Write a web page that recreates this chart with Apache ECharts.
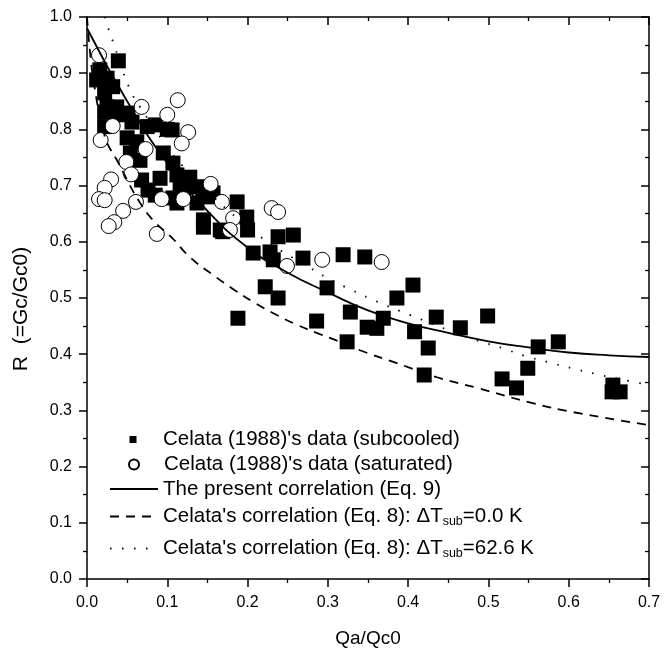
<!DOCTYPE html>
<html>
<head>
<meta charset="utf-8">
<script src="https://cdn.jsdelivr.net/npm/echarts@6/dist/echarts.min.js"></script>
<style>
html, body { margin: 0; padding: 0; background: #fff; }
#chart { width: 664px; height: 651px; }
</style>
</head>
<body>
<div id="chart"></div>
<script>
// Celata (1988) subcooled data [Qa/Qc0, R]
var subcooled = [
  [0.039,0.922],[0.016,0.906],[0.012,0.888],[0.025,0.891],[0.032,0.876],[0.022,0.865],
  [0.025,0.84],[0.037,0.84],[0.022,0.831],[0.022,0.805],[0.039,0.826],[0.051,0.829],
  [0.056,0.813],[0.05,0.785],[0.062,0.778],[0.075,0.805],[0.085,0.808],[0.1,0.8],
  [0.106,0.799],[0.095,0.758],[0.107,0.74],[0.054,0.758],[0.066,0.745],[0.068,0.71],
  [0.091,0.713],[0.076,0.692],[0.112,0.719],[0.116,0.698],[0.128,0.715],[0.137,0.698],
  [0.12,0.692],[0.144,0.692],[0.085,0.683],[0.107,0.678],[0.112,0.669],[0.137,0.669],
  [0.153,0.68],[0.157,0.687],[0.187,0.671],[0.145,0.639],[0.145,0.626],[0.166,0.621],
  [0.169,0.618],[0.199,0.644],[0.2,0.621],[0.207,0.58],[0.238,0.609],[0.257,0.612],
  [0.228,0.582],[0.232,0.568],[0.269,0.571],[0.319,0.577],[0.346,0.573],[0.222,0.52],
  [0.238,0.5],[0.188,0.464],[0.286,0.459],[0.299,0.518],[0.328,0.475],[0.324,0.422],
  [0.349,0.448],[0.361,0.446],[0.369,0.464],[0.386,0.5],[0.406,0.523],[0.408,0.44],
  [0.425,0.411],[0.435,0.466],[0.465,0.447],[0.42,0.363],[0.499,0.468],[0.517,0.356],
  [0.535,0.34],[0.549,0.375],[0.562,0.413],[0.587,0.422],[0.655,0.345],[0.664,0.333],
  [0.654,0.333]
];
// Celata (1988) saturated data
var saturated = [
  [0.015,0.932],[0.068,0.84],[0.113,0.852],[0.1,0.826],[0.126,0.795],[0.118,0.775],
  [0.032,0.806],[0.017,0.781],[0.073,0.765],[0.049,0.742],[0.055,0.72],[0.03,0.711],
  [0.022,0.696],[0.015,0.676],[0.022,0.674],[0.061,0.671],[0.093,0.676],[0.12,0.676],
  [0.154,0.703],[0.168,0.671],[0.045,0.655],[0.034,0.635],[0.027,0.628],[0.087,0.614],
  [0.182,0.642],[0.178,0.621],[0.23,0.66],[0.238,0.653],[0.249,0.557],[0.293,0.568],
  [0.367,0.564]
];
// present correlation (Eq. 9)
var presentCorr = [
  [0,0.98],[0.05,0.85],[0.1,0.74],[0.15,0.655],[0.2,0.59],[0.25,0.545],[0.3,0.51],
  [0.35,0.478],[0.4,0.455],[0.45,0.438],[0.5,0.423],[0.55,0.412],[0.6,0.403],
  [0.65,0.398],[0.7,0.395]
];
// Celata's correlation (Eq. 8), dTsub = 0.0 K
var celata0 = [
  [0,1.0],[0.005,0.92],[0.01,0.87],[0.015,0.83],[0.02,0.8],[0.025,0.776],[0.037,0.746],
  [0.05,0.71],[0.064,0.674],[0.082,0.639],[0.106,0.607],[0.128,0.573],[0.157,0.541],
  [0.184,0.514],[0.207,0.493],[0.232,0.473],[0.262,0.452],[0.286,0.438],[0.315,0.422],
  [0.34,0.407],[0.386,0.384],[0.436,0.359],[0.486,0.34],[0.555,0.313],[0.605,0.297],
  [0.7,0.274]
];
// Celata's correlation (Eq. 8), dTsub = 62.6 K
var celata62 = [
  [0.022,1.0],[0.025,0.986],[0.035,0.945],[0.045,0.902],[0.057,0.861],[0.066,0.84],
  [0.095,0.778],[0.116,0.74],[0.15,0.69],[0.187,0.642],[0.215,0.61],[0.244,0.582],
  [0.274,0.557],[0.3,0.535],[0.33,0.514],[0.359,0.495],[0.402,0.47],[0.45,0.443],
  [0.487,0.424],[0.517,0.411],[0.545,0.397],[0.574,0.386],[0.604,0.375],[0.633,0.365],
  [0.676,0.352],[0.7,0.345]
];

var names = [
  "Celata (1988)'s data (subcooled)",
  "Celata (1988)'s data (saturated)",
  "The present correlation (Eq. 9)",
  "Celata's correlation (Eq. 8): dT0",
  "Celata's correlation (Eq. 8): dT62"
];
var labels = {};
labels[names[3]] = "Celata's correlation (Eq. 8): \u0394T{s|sub}=0.0 K";
labels[names[4]] = "Celata's correlation (Eq. 8): \u0394T{s|sub}=62.6 K";

var FONT = "'Liberation Sans', Arial, Helvetica, sans-serif";
var chart = echarts.init(document.getElementById('chart'));

function fmt(v) { return v.toFixed(1); }

function xAxisCfg(pos) {
  var bottom = pos === 'bottom';
  return {
    type: 'value', min: 0, max: 0.7, interval: 0.1, position: pos,
    name: bottom ? 'Qa/Qc0' : '', nameLocation: 'middle', nameGap: 50,
    nameTextStyle: { color: '#000', fontSize: 19, fontFamily: FONT },
    axisLine: { onZero: false, lineStyle: { color: '#000', width: 1.5 } },
    axisTick: { inside: !bottom, length: 8, lineStyle: { color: '#000', width: 1.5 } },
    minorTick: { show: true, splitNumber: 2, length: 4, lineStyle: { color: '#000', width: 1.3 } },
    splitLine: { show: false },
    axisLabel: { show: bottom, formatter: fmt, color: '#000', fontSize: 16, fontFamily: FONT, margin: 16 }
  };
}
function yAxisCfg(pos) {
  var left = pos === 'left';
  return {
    type: 'value', min: 0, max: 1.0, interval: 0.1, position: pos,
    name: left ? 'R  (=Gc/Gc0)' : '', nameLocation: 'middle', nameGap: 55,
    nameTextStyle: { color: '#000', fontSize: 21, fontFamily: FONT, padding: [0, 22, 0, 0] },
    axisLine: { onZero: false, lineStyle: { color: '#000', width: 1.5 } },
    axisTick: { inside: !left, length: 8, lineStyle: { color: '#000', width: 1.5 } },
    minorTick: { show: true, splitNumber: 2, length: 4, lineStyle: { color: '#000', width: 1.3 } },
    splitLine: { show: false },
    axisLabel: { show: left, formatter: fmt, color: '#000', fontSize: 16, fontFamily: FONT, margin: 15 }
  };
}

function legendCfg(name, top, left, w, h, padLeft, isLine) {
  var cfg = {
    data: [name], top: top, left: left, orient: 'vertical', padding: 0,
    itemWidth: w, itemHeight: h, selectedMode: false,
    formatter: function (n) { return labels[n] || n; },
    textStyle: {
      color: '#000', fontSize: 20.5, fontFamily: FONT, padding: [0, 0, 0, padLeft],
      rich: { s: { fontSize: 12.5, fontFamily: FONT, color: '#000', padding: [11, 0, 0, 0] } }
    }
  };
  if (isLine) {
    cfg.itemStyle = { color: 'rgba(0,0,0,0)', borderColor: 'rgba(0,0,0,0)', borderWidth: 0 };
  }
  return cfg;
}

chart.setOption({
  animation: false,
  grid: { left: 87, right: 15, top: 17, bottom: 72, containLabel: false, outerBoundsMode: 'none' },
  xAxis: [xAxisCfg('bottom'), xAxisCfg('top')],
  yAxis: [yAxisCfg('left'), yAxisCfg('right')],
  legend: [
    legendCfg(names[0], 429, 129.5, 7, 7, 21.5, false),
    legendCfg(names[1], 454, 128, 10, 10, 20, false),
    legendCfg(names[2], 478.5, 109, 48, 10, 0, true),
    legendCfg(names[3], 506, 109, 48, 10, 0, true),
    legendCfg(names[4], 538, 109, 48, 10, 0, true)
  ],
  series: [
    {
      name: names[0], type: 'scatter', data: subcooled, symbol: 'rect', symbolSize: 15,
      itemStyle: { color: '#000', opacity: 1 }, emphasis: { disabled: true }
    },
    {
      name: names[1], type: 'scatter', data: saturated, symbol: 'circle', symbolSize: 15,
      itemStyle: { color: '#fff', borderColor: '#000', borderWidth: 1, opacity: 1 },
      emphasis: { disabled: true }
    },
    {
      name: names[2], type: 'line', data: presentCorr, smooth: true, symbol: 'none',
      lineStyle: { color: '#000', width: 1.8 }
    },
    {
      name: names[3], type: 'line', data: celata0, smooth: true, symbol: 'none',
      lineStyle: { color: '#000', width: 1.8, type: [9, 7] }
    },
    {
      name: names[4], type: 'line', data: celata62, smooth: true, symbol: 'none',
      lineStyle: { color: '#000', width: 1.8, type: [1.5, 10.5] }
    }
  ]
});
</script>
</body>
</html>
